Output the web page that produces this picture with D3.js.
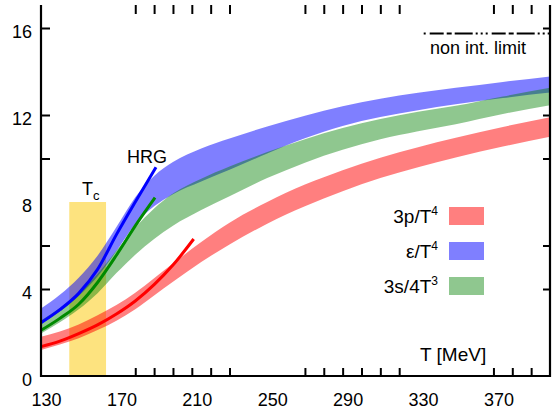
<!DOCTYPE html>
<html>
<head>
<meta charset="utf-8">
<script src="https://cdn.jsdelivr.net/npm/d3@7/dist/d3.min.js"></script>
<style>
  html, body { margin: 0; padding: 0; background: #fff; }
  svg { display: block; }
  text { font-family: "Liberation Sans", Arial, Helvetica, sans-serif; fill: #000; }
</style>
</head>
<body>
<svg id="chart" width="553" height="415"></svg>
<script>
// Temperature grid of the lattice bands (MeV)
const bandT = [130, 140, 150, 160, 170, 180, 190, 200, 215, 230, 250, 270, 290, 310, 330, 350, 375, 400];
// 3p/T^4 band: central value and half width
const pressure3     = [1.5, 1.75, 2.05, 2.45, 2.9, 3.45, 4.1, 4.75, 5.7, 6.55, 7.5, 8.3, 8.98, 9.57, 10.06, 10.5, 11.0, 11.45];
const pressure3Err  = [0.3, 0.3, 0.32, 0.34, 0.36, 0.38, 0.4, 0.42, 0.46, 0.5, 0.5, 0.5, 0.48, 0.47, 0.46, 0.45, 0.45, 0.45];
// e/T^4 band
const energy        = [2.75, 3.35, 4.1, 5.05, 6.3, 7.6, 8.5, 9.1, 9.7, 10.2, 10.85, 11.45, 11.95, 12.33, 12.62, 12.87, 13.15, 13.4];
const energyErr     = [0.35, 0.38, 0.42, 0.48, 0.55, 0.62, 0.7, 0.74, 0.76, 0.72, 0.62, 0.52, 0.45, 0.42, 0.4, 0.38, 0.37, 0.37];
// 3s/4T^3 band
const entropy       = [2.25, 2.8, 3.45, 4.25, 5.25, 6.2, 7.0, 7.65, 8.35, 8.95, 9.7, 10.35, 10.9, 11.35, 11.7, 12.0, 12.45, 12.85];
const entropyErr    = [0.3, 0.33, 0.38, 0.44, 0.52, 0.62, 0.7, 0.74, 0.72, 0.68, 0.6, 0.54, 0.5, 0.47, 0.45, 0.42, 0.4, 0.4];

// Hadron resonance gas curves
const hrgT_p = [130, 140, 150, 160, 170, 180, 190, 200, 211];
const hrgP   = [1.35, 1.6, 1.95, 2.35, 2.85, 3.45, 4.2, 5.1, 6.3];
const hrgT_e = [130, 140, 150, 160, 170, 180, 191];
const hrgE   = [2.45, 3.05, 3.8, 4.9, 6.5, 8.0, 9.6];
const hrgT_s = [130, 140, 150, 160, 170, 180, 190.5];
const hrgS   = [2.1, 2.65, 3.3, 4.3, 5.55, 6.9, 8.2];

// Crossover region and free-gas limit
const tcRange = [145, 164.5];
const tcHeight = 8;
const sbLimit = 15.75;
const sbRange = [333, 400];

// Axis ticks and labels
const xTickValues  = [180, 190, 200, 210, 220, 230, 270, 280, 290, 300, 310, 320, 370, 380, 390];
const xLabelValues = [130, 170, 210, 250, 290, 330, 370];
const yTickValues  = [4, 6, 10, 12, 16];
const yLabelValues = [0, 4, 8, 12, 16];

const legendItems = [
  { main: "3p/T", sup: "4", color: "rgba(255,0,0,0.5)" },
  { main: "\u03b5/T", sup: "4", color: "rgba(0,0,255,0.5)" },
  { main: "3s/4T", sup: "3", color: "rgba(0,128,0,0.44)" }
];

const svg = d3.select("#chart");
const x = d3.scaleLinear().domain([130, 400]).range([41, 550]);
const y = d3.scaleLinear().domain([0, 16]).range([376, 28]);
const yTop = 5;

// Tc band
svg.append("rect")
  .attr("x", x(tcRange[0])).attr("y", y(tcHeight))
  .attr("width", x(tcRange[1]) - x(tcRange[0]))
  .attr("height", y(0) - y(tcHeight))
  .attr("fill", "#fde37f");

function band(vals, errs, color) {
  const rows = bandT.map((t, i) => ({ t, lo: vals[i] - errs[i], hi: vals[i] + errs[i] }));
  const area = d3.area()
    .x(d => x(d.t)).y0(d => y(d.lo)).y1(d => y(d.hi))
    .curve(d3.curveMonotoneX);
  svg.append("path").datum(rows).attr("d", area).attr("fill", color);
}
band(pressure3, pressure3Err, "rgba(255,0,0,0.5)");
band(energy, energyErr, "rgba(0,0,255,0.5)");
band(entropy, entropyErr, "rgba(0,128,0,0.44)");

function hrgLine(ts, vals, color) {
  const line = d3.line().x((d, i) => x(ts[i])).y(d => y(d)).curve(d3.curveMonotoneX);
  svg.append("path").datum(vals).attr("d", line)
    .attr("fill", "none").attr("stroke", color).attr("stroke-width", 3);
}
hrgLine(hrgT_p, hrgP, "#ff0000");
hrgLine(hrgT_s, hrgS, "#008a00");
hrgLine(hrgT_e, hrgE, "#0000ff");

// Free-gas limit line
svg.append("line")
  .attr("x1", x(sbRange[0])).attr("x2", x(sbRange[1]))
  .attr("y1", y(sbLimit)).attr("y2", y(sbLimit))
  .attr("stroke", "#000").attr("stroke-width", 2)
  .attr("stroke-dasharray", "2,4,14,3,5,3,18,3,2,3,2,3");
svg.append("text").attr("x", 430).attr("y", 54)
  .attr("font-size", 18).text("non int. limit");

// Frame
const frame = svg.append("g").attr("stroke", "#000").attr("stroke-width", 2.2).attr("fill", "none");
frame.append("path").attr("d", `M${x(130)},${yTop}V${y(0)}H${x(400)}V${yTop}`);

function tickAxis(axis, tx, ty) {
  const g = svg.append("g").attr("transform", `translate(${tx},${ty})`).call(axis);
  g.select(".domain").remove();
  g.selectAll("line").attr("stroke-width", 2);
  return g;
}
tickAxis(d3.axisBottom(x).tickValues(xTickValues).tickSize(-8).tickFormat(""), 0, y(0));
tickAxis(d3.axisTop(x).tickValues(xTickValues).tickSize(-9).tickFormat(""), 0, yTop);
tickAxis(d3.axisLeft(y).tickValues(yTickValues).tickSize(-9).tickFormat(""), x(130), 0);
tickAxis(d3.axisRight(y).tickValues(yTickValues).tickSize(-7).tickFormat(""), x(400), 0);

// Tick labels
const xl = svg.append("g").attr("transform", `translate(0,${y(0)})`)
  .call(d3.axisBottom(x).tickValues(xLabelValues).tickSize(0).tickPadding(17));
xl.select(".domain").remove();
xl.selectAll("text").attr("font-size", 18).attr("font-family", null).attr("dx", 5);

const yl = svg.append("g").attr("transform", `translate(${x(130)},0)`)
  .call(d3.axisLeft(y).tickValues(yLabelValues).tickSize(0).tickPadding(9));
yl.select(".domain").remove();
yl.selectAll("text").attr("font-size", 18).attr("font-family", null).attr("dy", "0.55em");

// Annotations
svg.append("text").attr("x", 127).attr("y", 163).attr("font-size", 18).text("HRG");
const tc = svg.append("text").attr("x", 82).attr("y", 195).attr("font-size", 18);
tc.append("tspan").text("T");
tc.append("tspan").attr("font-size", 13).attr("dy", 5).text("c");
svg.append("text").attr("x", 420).attr("y", 361).attr("font-size", 19).text("T [MeV]");

// Legend
const legend = svg.append("g");
legendItems.forEach((d, i) => {
  const cy = 216 + i * 35;
  legend.append("rect").attr("x", 449).attr("y", cy - 9).attr("width", 35).attr("height", 18).attr("fill", d.color);
  const t = legend.append("text").attr("x", 438).attr("y", cy + 7)
    .attr("text-anchor", "end").attr("font-size", 19);
  t.append("tspan").text(d.main);
  t.append("tspan").attr("font-size", 12).attr("dy", -8).text(d.sup);
});
</script>
</body>
</html>
